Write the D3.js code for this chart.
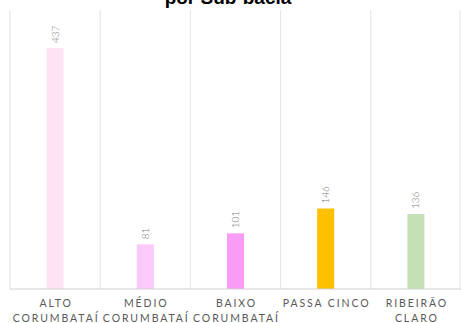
<!DOCTYPE html>
<html>
<head>
    <meta charset="utf-8">
    <title>por Sub-bacia</title>
    <script src="https://d3js.org/d3.v7.min.js"></script>
    <style>
        body { margin: 0; background: #fff; }
        svg { display: block; }
    </style>
</head>
<body>
    <svg width="461" height="323"></svg>
    <script>
        const categories = ["ALTO|CORUMBATAÍ", "MÉDIO|CORUMBATAÍ", "BAIXO|CORUMBATAÍ", "PASSA CINCO", "RIBEIRÃO|CLARO"];
        const values = [437, 81, 101, 146, 136];
        const colors = ["#fde3f3", "#fbc9fa", "#f99cf5", "#ffc000", "#c5e0b4"];
        const title = "por Sub-bacia";

        const svg = d3.select("svg"),
              width = +svg.attr("width"),
              height = +svg.attr("height"),
              margin = {top: 10, right: 0, bottom: 34, left: 10};

        const x = d3.scaleBand()
                    .domain(categories)
                    .range([margin.left, width - margin.right]);
        const y = d3.scaleLinear()
                    .domain([0, 506])
                    .range([height - margin.bottom, margin.top]);

        // titulo (cortado no topo)
        svg.append("text")
           .attr("x", 228)
           .attr("y", 4)
           .attr("text-anchor", "middle")
           .style("font-family", "Liberation Sans, Arial, sans-serif")
           .style("font-weight", "bold")
           .style("font-size", "19px")
           .text(title);

        // linhas verticais entre categorias
        const bounds = categories.map(c => x(c)).concat([width - margin.right - 1]);
        svg.selectAll(".grid")
           .data(bounds)
           .enter().append("line")
           .attr("class", "grid")
           .attr("x1", d => d).attr("x2", d => d)
           .attr("y1", margin.top).attr("y2", height - margin.bottom)
           .attr("stroke", "#e3e3e3")
           .attr("stroke-width", 1);

        // barras
        const barW = 17;
        svg.selectAll(".bar")
           .data(values)
           .enter().append("rect")
           .attr("class", "bar")
           .attr("x", (d, i) => x(categories[i]) + x.bandwidth() / 2 - barW / 2)
           .attr("y", d => y(d))
           .attr("width", barW)
           .attr("height", d => y(0) - y(d))
           .attr("fill", (d, i) => colors[i]);

        // rotulos de dados
        svg.selectAll(".lbl")
           .data(values)
           .enter().append("text")
           .attr("class", "lbl")
           .attr("transform", (d, i) => `translate(${x(categories[i]) + x.bandwidth() / 2 + 3.5},${y(d) - 5}) rotate(-90)`)
           .style("font-family", "Lato, Open Sans, sans-serif")
           .style("font-weight", "300")
           .style("font-size", "10px")
           .style("fill", "#7a7a7a")
           .text(d => d);

        // eixo inferior
        svg.append("line")
           .attr("x1", margin.left).attr("x2", width)
           .attr("y1", y(0)).attr("y2", y(0))
           .attr("stroke", "#d0d0d0");

        const ticks = svg.selectAll(".tick")
           .data(categories)
           .enter().append("text")
           .attr("class", "tick")
           .attr("text-anchor", "middle")
           .style("font-family", "Lato, Open Sans, sans-serif")
           .style("font-size", "10.5px")
           .style("letter-spacing", "1.9px")
           .style("fill", "#595959");
        ticks.selectAll("tspan")
           .data(d => d.split("|").map(t => ({t: t, c: d})))
           .enter().append("tspan")
           .attr("x", d => x(d.c) + x.bandwidth() / 2 + 1)
           .attr("y", (d, i) => 307 + i * 15)
           .text(d => d.t);
    </script>
</body>
</html>
